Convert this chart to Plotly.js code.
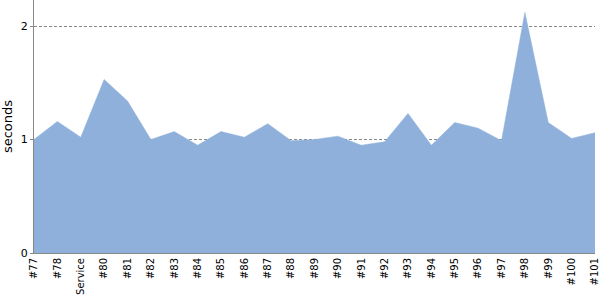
<!DOCTYPE html>
<html>
<head>
<meta charset="utf-8">
<script src="https://cdn.plot.ly/plotly-3.0.1.min.js"></script>
<style>html,body{margin:0;padding:0;background:#fff;}#chart{width:600px;height:300px;}</style>
</head>
<body>
<div id="chart"></div>
<script>
const categories = ["#77","#78","Service","#80","#81","#82","#83","#84","#85","#86","#87","#88","#89","#90","#91","#92","#93","#94","#95","#96","#97","#98","#99","#100","#101"];
const seconds = [1.00,1.16,1.02,1.53,1.34,1.00,1.07,0.95,1.07,1.02,1.14,0.99,1.00,1.03,0.95,0.98,1.23,0.95,1.15,1.10,0.99,2.12,1.15,1.01,1.06];
const yTicks = [0,1,2];

const trace = {
  x: categories,
  y: seconds,
  type: "scatter",
  mode: "lines",
  fill: "tozeroy",
  fillcolor: "#8fb0da",
  line: {color: "#8fb0da", width: 0.5},
  hoverinfo: "x+y"
};

const layout = {
  width: 600, height: 300,
  margin: {l: 34, r: 5, t: 0, b: 47},
  paper_bgcolor: "#fff",
  plot_bgcolor: "#fff",
  showlegend: false,
  font: {family: "DejaVu Sans", size: 10, color: "#000"},
  xaxis: {
    type: "category",
    tickangle: -90,
    range: [0, categories.length - 1],
    showgrid: false,
    showline: true,
    linecolor: "#888",
    linewidth: 1,
    ticks: "",
    tickfont: {family: "DejaVu Sans", size: 10, color: "#000"},
    zeroline: false,
    fixedrange: true
  },
  yaxis: {
    range: [0, 2.23],
    tickvals: yTicks,
    ticktext: yTicks.map(String),
    showgrid: true,
    gridcolor: "#888",
    griddash: "3px,2px",
    gridwidth: 1,
    showline: true,
    linecolor: "#888",
    linewidth: 1,
    ticks: "outside",
    ticklen: 3,
    tickcolor: "#888",
    tickfont: {family: "DejaVu Sans", size: 11, color: "#000"},
    zeroline: false,
    title: {text: "seconds", font: {family: "DejaVu Sans", size: 13, color: "#000"}, standoff: 6},
    fixedrange: true
  }
};

Plotly.newPlot("chart", [trace], layout, {displayModeBar: false, staticPlot: true});
</script>
</body>
</html>
